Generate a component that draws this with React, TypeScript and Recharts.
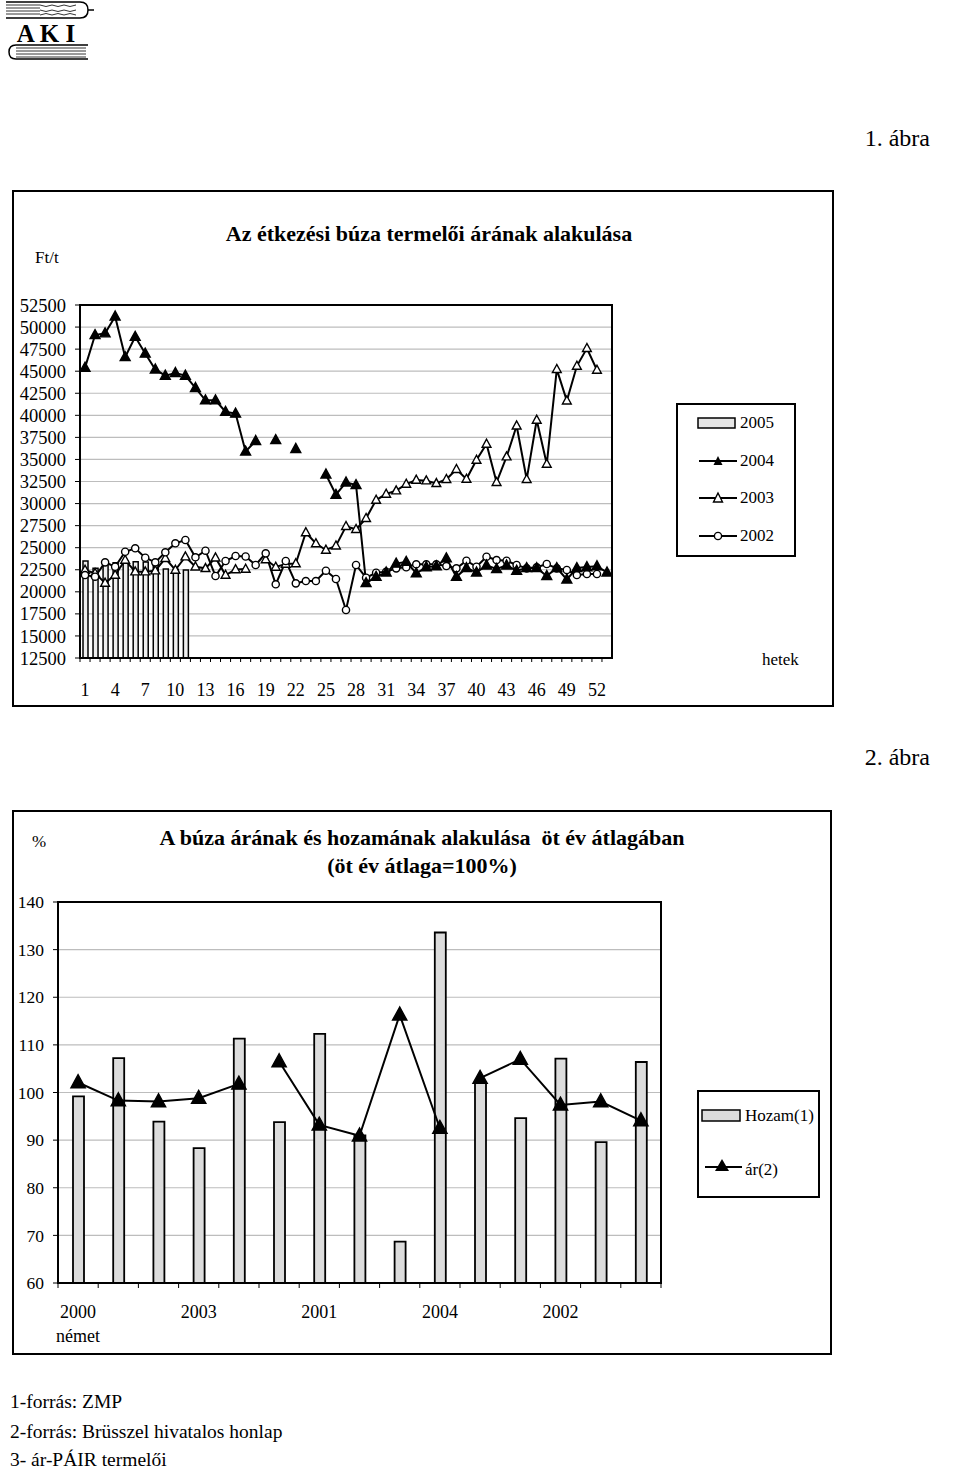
import React from 'react';
import { ComposedChart, Bar, Line, XAxis, YAxis, CartesianGrid } from 'recharts';

const FONT = '"Liberation Serif", "Times New Roman", serif';

// 1. ábra – weekly producer price of milling wheat (Ft/t)
const weeks = [
  1, 2, 3, 4, 5, 6, 7, 8, 9, 10, 11, 12, 13, 14, 15, 16, 17, 18, 19, 20, 21, 22, 23, 24, 25, 26,
  27, 28, 29, 30, 31, 32, 33, 34, 35, 36, 37, 38, 39, 40, 41, 42, 43, 44, 45, 46, 47, 48, 49, 50,
  51, 52, 53,
];
const priceTicks = [
  12500, 15000, 17500, 20000, 22500, 25000, 27500, 30000, 32500, 35000, 37500, 40000, 42500, 45000,
  47500, 50000, 52500,
];
const price2005 = [23490, 22660, 23230, 23300, 23490, 23410, 23380, 23380, 22580, 22550, 22470];
const price2004 = [
  45400, 49100, 49300, 51200, 46600, 48900, 47000, 45200, 44500, 44800,
  44500, 43100, 41700, 41700, 40400, 40200, 35900, 37100, null, 37200,
  null, 36200, null, null, 33300, 31000, 32400, 32100, 21000, 21700,
  22200, 23200, 23400, 22100, 22800, 22900, 23800, 21700, 22700, 22200,
  23000, 22600, 23000, 22400, 22700, 22700, 21800, 22700, 21400, 22700,
  22800, 22900, 22200,
];
const price2003 = [
  22470, 22100, 21000, 21900, 23600, 22280, 22280, 22390, 23800, 22470,
  23980, 22840, 22660, 23860, 21900, 22530, 22580, null, 23660, 22810,
  23150, 23210, 26720, 25470, 24740, 25210, 27420, 27080, 28330, 30400,
  31080, 31460, 32210, 32670, 32590, 32290, 32750, 33880, 32780, 34930,
  36750, 32410, 35310, 38820, 32750, 39470, 34480, 45210, 41650, 45580,
  47590, 45130, null,
];
const price2002 = [
  21900, 21710, 23340, 22840, 24540, 24930, 23860, 23340, 24480, 25500,
  25870, 23910, 24660, 21790, 23490, 24060, 24000, 23040, 24360, 20850,
  23490, 20960, 21220, 21220, 22390, 21450, 17940, 23040, 21600, 22160,
  22280, 22660, 22780, 23120, 23120, 23120, 22920, 22660, 23520, 22840,
  23980, 23600, 23520, 23040, 22660, 22780, 23150, 22660, 22470, 21900,
  22020, 22020, null,
];

// 2. ábra – price and yield vs five-year average (%)
const years = ['2000', '2001', '2002', '2003', '2004'];
const countryLabel = 'német';
const pctTicks = [60, 70, 80, 90, 100, 110, 120, 130, 140];
const hozam = [99.2, 107.2, 93.9, 88.3, 111.3, 93.8, 112.3, 91.0, 68.7, 133.6, 102.0, 94.6, 107.1, 89.6, 106.4];
const ar = [102.1, 98.3, 98.1, 98.8, 101.8, 106.5, 93.2, 90.9, 116.3, 92.5, 103.0, 107.0, 97.4, 98.1, 94.1];

const weekData = weeks.map((w, i) => ({
  week: String(w),
  y2005: price2005[i] ?? null,
  y2004: price2004[i] ?? null,
  y2003: price2003[i] ?? null,
  y2002: price2002[i] ?? null,
}));

const groupCount = Math.ceil(hozam.length / years.length);
const indexData = hozam.map((h, i) => {
  const g = Math.floor(i / years.length);
  const row: any = { key: `${years[i % years.length]}-${g}`, year: years[i % years.length], hozam: h };
  for (let k = 0; k < groupCount; k++) row[`ar${k}`] = k === g ? ar[i] : null;
  return row;
});

const TOP = { left: 0, top: 280, width: 640, height: 423, margin: { top: 25, right: 28, bottom: 5, left: 20 }, yw: 60, xh: 40 };
const BOT = { left: 0, top: 880, width: 680, height: 468, margin: { top: 22, right: 19, bottom: 5, left: 0 }, yw: 58, xh: 60 };

const frameStyle = (c: typeof TOP): React.CSSProperties => ({
  position: 'absolute',
  left: c.left + c.margin.left + c.yw - 1,
  top: c.top + c.margin.top - 1,
  width: c.width - c.margin.left - c.margin.right - c.yw + 2,
  height: c.height - c.margin.top - c.margin.bottom - c.xh + 2,
  border: '2px solid #000',
  boxSizing: 'border-box',
  pointerEvents: 'none',
});

const triangleDot = (filled: boolean, size: number) => (props: any) => {
  const { cx, cy, index } = props;
  if (cx == null || cy == null) return <g key={`n-${index}`} />;
  const w = size * 1.1;
  const pts = `${cx},${cy - size * 0.6} ${cx - w / 2},${cy + size * 0.4} ${cx + w / 2},${cy + size * 0.4}`;
  return <polygon key={`t-${index}`} points={pts} fill={filled ? '#000' : '#fff'} stroke="#000" strokeWidth={1.4} />;
};

const circleDot = (props: any) => {
  const { cx, cy, index } = props;
  if (cx == null || cy == null) return <g key={`n-${index}`} />;
  return <circle key={`c-${index}`} cx={cx} cy={cy} r={3.6} fill="#fff" stroke="#000" strokeWidth={1.4} />;
};

const WeekTick = (props: any) => {
  const { x, y, payload, index } = props;
  const half = payload?.offset ?? 0;
  return (
    <g>
      <line x1={x - half} x2={x - half} y1={y} y2={y + 4} stroke="#000" />
      {index % 3 === 0 && (
        <text x={x} y={y + 32} dy="0.35em" textAnchor="middle" fontSize={18} fontFamily={FONT} fill="#000">
          {payload.value}
        </text>
      )}
    </g>
  );
};

const IndexTick = (props: any) => {
  const { x, y, payload, index } = props;
  const half = payload?.offset ?? 0;
  const row = indexData[index];
  return (
    <g>
      <line x1={x - half} x2={x - half} y1={y} y2={y + 5} stroke="#000" />
      {index === indexData.length - 1 && <line x1={x + half} x2={x + half} y1={y} y2={y + 5} stroke="#000" />}
      {index % 3 === 0 && row && (
        <text x={x} y={y + 29} dy="0.35em" textAnchor="middle" fontSize={18} fontFamily={FONT} fill="#000">
          {row.year}
        </text>
      )}
      {index === 0 && (
        <text x={x} y={y + 53} dy="0.35em" textAnchor="middle" fontSize={18} fontFamily={FONT} fill="#000">
          {countryLabel}
        </text>
      )}
    </g>
  );
};

const Txt = ({ x, y, size = 17, bold = false, align = 'left', children }: any) => (
  <div
    style={{
      position: 'absolute',
      left: x,
      top: y,
      transform: `translate(${align === 'center' ? '-50%' : align === 'right' ? '-100%' : '0'}, -50%)`,
      fontFamily: FONT,
      fontSize: size,
      fontWeight: bold ? 700 : 400,
      whiteSpace: 'pre',
      lineHeight: 1.15,
      color: '#000',
    }}
  >
    {children}
  </div>
);

const box = (left: number, top: number, width: number, height: number): React.CSSProperties => ({
  position: 'absolute', left, top, width, height, border: '2px solid #000', boxSizing: 'border-box',
});

const Logo = () => (
  <svg width={100} height={62} style={{ position: 'absolute', left: 0, top: 0 }}>
    <path d="M6 2 H80 Q88 2 88 10 Q88 18 80 18 H6" fill="none" stroke="#000" strokeWidth={1.5} />
    {[5, 8, 11, 14].map((yy) => (
      <line key={yy} x1={6} x2={40} y1={yy} y2={yy} stroke="#000" strokeWidth={0.8} />
    ))}
    <path d="M40 5 q6 3 12 0 q6 3 12 0 q6 3 12 0 M40 10 q6 3 12 0 q6 3 12 0 q6 3 12 0 M40 15 q6 -3 12 0 q6 -3 12 0 q6 -3 12 0" fill="none" stroke="#000" strokeWidth={0.8} />
    <line x1={88} x2={94} y1={10} y2={10} stroke="#000" strokeWidth={1.5} />
    <text x={46} y={42} textAnchor="middle" fontFamily={FONT} fontWeight={700} fontSize={25} fill="#000">A K I</text>
    <path d="M88 45 H16 Q9 45 9 52 Q9 59 16 59 H88" fill="none" stroke="#000" strokeWidth={1.5} />
    {[48, 51, 54, 57].map((yy) => (
      <line key={yy} x1={16} x2={86} y1={yy} y2={yy} stroke="#000" strokeWidth={0.8} />
    ))}
  </svg>
);

const axisTick = { fontSize: 18.5, fill: '#000', fontFamily: FONT };
const axisTick2 = { fontSize: 17.5, fill: '#000', fontFamily: FONT };

export default function App() {
  return (
    <div style={{ position: 'absolute', left: 0, top: 0, width: 960, height: 1472, background: '#fff', overflow: 'hidden' }}>
      <Logo />
      <Txt x={930} y={139} size={24} align="right">1. ábra</Txt>

      <div style={box(12, 190, 822, 517)} />
      <Txt x={35} y={258} size={17}>Ft/t</Txt>
      <Txt x={429} y={234} size={22} bold align="center">Az étkezési búza termelői árának alakulása</Txt>

      <div style={{ position: 'absolute', left: TOP.left, top: TOP.top }}>
        <ComposedChart width={TOP.width} height={TOP.height} data={weekData} margin={TOP.margin} barCategoryGap="50%">
          <CartesianGrid vertical={false} stroke="#bdbdbd" strokeWidth={1.2} />
          <XAxis dataKey="week" height={TOP.xh} interval={0} tickLine={false} tickSize={0} tickMargin={0} axisLine={{ stroke: '#000', strokeWidth: 2 }} tick={<WeekTick />} />
          <YAxis domain={[12500, 52500]} ticks={priceTicks} interval={0} width={TOP.yw} tick={axisTick} tickSize={5} tickMargin={9} tickLine={{ stroke: '#000' }} axisLine={{ stroke: '#000', strokeWidth: 2 }} allowDataOverflow />
          <Bar dataKey="y2005" barSize={5} fill="#eeeeee" stroke="#000" strokeWidth={1.5} isAnimationActive={false} />
          <Line dataKey="y2003" stroke="#000" strokeWidth={2} dot={triangleDot(false, 8)} activeDot={false} isAnimationActive={false} />
          <Line dataKey="y2002" stroke="#000" strokeWidth={2} dot={circleDot} activeDot={false} isAnimationActive={false} />
          <Line dataKey="y2004" stroke="#000" strokeWidth={2} dot={triangleDot(true, 9)} activeDot={false} isAnimationActive={false} />
        </ComposedChart>
      </div>
      <div style={frameStyle(TOP)} />

      <div style={box(676, 403, 120, 154)} />
      <svg width={60} height={140} style={{ position: 'absolute', left: 690, top: 410 }}>
        <rect x={8} y={8} width={37} height={10} fill="#e6e6e6" stroke="#000" strokeWidth={1.5} />
        <line x1={9} x2={47} y1={51} y2={51} stroke="#000" strokeWidth={2} />
        <polygon points="28,46 23.5,55 32.5,55" fill="#000" />
        <line x1={9} x2={47} y1={88} y2={88} stroke="#000" strokeWidth={2} />
        <polygon points="28,83 23.5,92 32.5,92" fill="#fff" stroke="#000" strokeWidth={1.4} />
        <line x1={9} x2={47} y1={126} y2={126} stroke="#000" strokeWidth={2} />
        <circle cx={28} cy={126} r={3.6} fill="#fff" stroke="#000" strokeWidth={1.4} />
      </svg>
      <Txt x={740} y={423}>2005</Txt>
      <Txt x={740} y={461}>2004</Txt>
      <Txt x={740} y={498}>2003</Txt>
      <Txt x={740} y={536}>2002</Txt>
      <Txt x={762} y={660}>hetek</Txt>

      <Txt x={930} y={758} size={24} align="right">2. ábra</Txt>

      <div style={box(12, 810, 820, 545)} />
      <Txt x={32} y={842} size={17}>%</Txt>
      <Txt x={422} y={838} size={22} bold align="center">A búza árának és hozamának alakulása  öt év átlagában</Txt>
      <Txt x={422} y={866} size={22} bold align="center">(öt év átlaga=100%)</Txt>

      <div style={{ position: 'absolute', left: BOT.left, top: BOT.top }}>
        <ComposedChart width={BOT.width} height={BOT.height} data={indexData} margin={BOT.margin}>
          <CartesianGrid vertical={false} stroke="#bdbdbd" strokeWidth={1.2} />
          <XAxis dataKey="key" height={BOT.xh} interval={0} tickLine={false} tickSize={0} tickMargin={0} axisLine={{ stroke: '#000', strokeWidth: 2 }} tick={<IndexTick />} />
          <YAxis domain={[60, 140]} ticks={pctTicks} interval={0} width={BOT.yw} tick={axisTick2} tickSize={5} tickMargin={9} tickLine={{ stroke: '#000' }} axisLine={{ stroke: '#000', strokeWidth: 2 }} allowDataOverflow />
          <Bar dataKey="hozam" barSize={11} fill="#dcdcdc" stroke="#000" strokeWidth={1.8} isAnimationActive={false} />
          {Array.from({ length: groupCount }, (_, k) => (
            <Line key={k} dataKey={`ar${k}`} stroke="#000" strokeWidth={2} dot={triangleDot(true, 13)} activeDot={false} isAnimationActive={false} />
          ))}
        </ComposedChart>
      </div>
      <div style={frameStyle(BOT)} />

      <div style={box(697, 1090, 123, 108)} />
      <svg width={50} height={100} style={{ position: 'absolute', left: 698, top: 1095 }}>
        <rect x={4} y={15} width={38} height={11} fill="#dcdcdc" stroke="#000" strokeWidth={1.5} />
        <line x1={7} x2={44} y1={72} y2={72} stroke="#000" strokeWidth={2} />
        <polygon points="24,64 17,76 31,76" fill="#000" />
      </svg>
      <Txt x={745} y={1116}>Hozam(1)</Txt>
      <Txt x={745} y={1170}>ár(2)</Txt>

      <Txt x={10} y={1402} size={19.5}>1-forrás: ZMP</Txt>
      <Txt x={10} y={1432} size={19.5}>2-forrás: Brüsszel hivatalos honlap</Txt>
      <Txt x={10} y={1460} size={19.5}>3- ár-PÁIR termelői</Txt>
    </div>
  );
}
